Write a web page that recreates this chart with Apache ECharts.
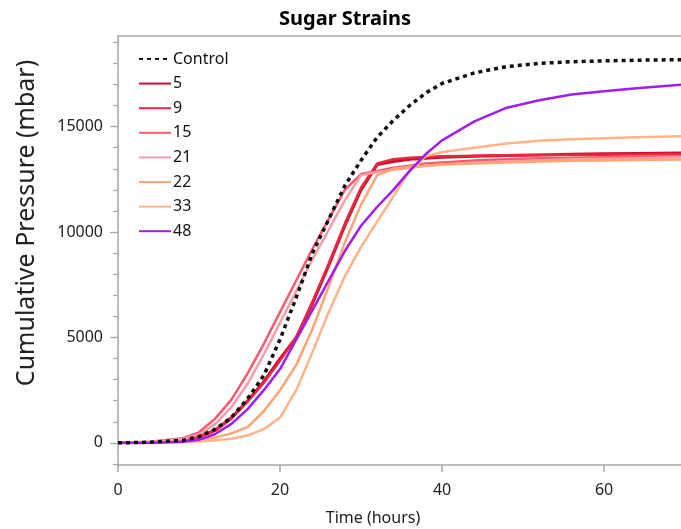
<!DOCTYPE html>
<html lang="en">
<head>
    <meta charset="UTF-8"/>
    <script src="https://cdn.jsdelivr.net/npm/echarts@6/dist/echarts.min.js"></script>
    <title>Sugar Strains</title>
    <style>
        html, body { margin: 0; padding: 0; background: #fff; }
    </style>
</head>
<body>
<div id="main" style="width:681px; height:529px;"></div>
<script type="text/javascript">
    // sampling times (hours)
    var hours = [0, 4, 8, 10, 12, 14, 16, 18, 20, 22, 24, 26, 28, 30, 32, 34, 36, 38, 40, 44, 48, 52, 56, 60, 64, 70];

    // cumulative pressure (mbar) per strain
    var control = [0, 30, 120, 300, 650, 1200, 2100, 3200, 4900, 6900, 9000, 10600, 12200, 13400, 14500, 15300, 16000, 16600, 17050, 17550, 17850, 18000, 18080, 18120, 18150, 18180];
    var s5  = [0, 30, 120, 300, 600, 1200, 2000, 2900, 4000, 5000, 6600, 8400, 10300, 12000, 13200, 13350, 13450, 13500, 13550, 13600, 13630, 13660, 13690, 13710, 13730, 13750];
    var s9  = [0, 30, 120, 280, 580, 1150, 1950, 2850, 3900, 5000, 6700, 8500, 10400, 12100, 13250, 13450, 13520, 13560, 13600, 13620, 13640, 13650, 13660, 13670, 13680, 13700];
    var s15 = [0, 50, 220, 500, 1150, 2050, 3300, 4700, 6200, 7700, 9200, 10600, 12000, 12750, 12900, 13050, 13150, 13250, 13300, 13400, 13450, 13500, 13520, 13550, 13580, 13600];
    var s21 = [0, 40, 180, 400, 900, 1700, 2800, 4200, 5700, 7200, 8700, 10100, 11500, 12700, 12850, 12950, 13050, 13150, 13200, 13300, 13350, 13400, 13450, 13480, 13500, 13550];
    var s22 = [0, 10, 60, 120, 250, 450, 750, 1500, 2500, 3700, 5400, 7400, 9500, 11300, 12700, 13000, 13100, 13150, 13200, 13250, 13300, 13350, 13380, 13400, 13420, 13450];
    var s33 = [0, 0, 30, 60, 120, 200, 350, 650, 1200, 2500, 4300, 6200, 7900, 9300, 10500, 11700, 12900, 13600, 13800, 14000, 14200, 14330, 14400, 14450, 14500, 14550];
    var s48 = [0, 0, 50, 150, 420, 900, 1600, 2500, 3500, 4900, 6300, 7700, 9100, 10300, 11200, 12000, 12900, 13700, 14350, 15250, 15900, 16250, 16520, 16680, 16820, 17000];

    var names = ['Control', '5', '9', '15', '21', '22', '33', '48'];
    var values = [control, s5, s9, s15, s21, s22, s33, s48];
    var colors = ['#111111', '#c8102e', '#e8283e', '#f65a6e', '#fb9ca8', '#ffa473', '#ffb48a', '#a21cf0'];

    // axis ticks
    var xTicks = [0, 20, 40, 60];
    var yTicks = [0, 5000, 10000, 15000];
    var yMinorTicks = [-1000, 0, 1000, 2000, 3000, 4000, 5000, 6000, 7000, 8000, 9000, 10000,
        11000, 12000, 13000, 14000, 15000, 16000, 17000, 18000, 19000];

    var myChart = echarts.init(document.getElementById('main'));
    var font = 'Noto Sans';
    var axisGray = '#a6a6a6';

    var series = names.map(function (name, k) {
        var isControl = k === 0;
        return {
            name: name,
            type: 'line',
            symbol: 'none',
            smooth: false,
            z: isControl ? 5 : 2,
            data: hours.map(function (t, i) { return [t, values[k][i]]; }),
            lineStyle: {
                color: colors[k],
                width: isControl ? 3.5 : (k === 1 ? 3 : 2.5),
                type: isControl ? [4, 4] : 'solid',
                cap: 'butt'
            },
            itemStyle: { color: colors[k] }
        };
    });

    option = {
        animation: false,
        title: [
            {
                text: 'Sugar Strains',
                left: 340, top: 4, textAlign: 'center',
                textStyle: { fontFamily: font, fontSize: 20, fontWeight: 'bold', color: '#000' }
            },
            {
                text: 'Time (hours)',
                left: 368, top: 505, textAlign: 'center',
                textStyle: { fontFamily: font, fontSize: 16, fontWeight: 'normal', color: '#222' }
            }
        ],
        graphic: [{
            type: 'text',
            x: 27, y: 223,
            rotation: Math.PI / 2,
            style: {
                text: 'Cumulative Pressure (mbar)',
                font: '25px "Noto Sans"',
                fill: '#222',
                align: 'center',
                verticalAlign: 'middle'
            }
        }],
        legend: {
            orient: 'vertical',
            left: 133, top: 46,
            itemWidth: 32, itemHeight: 16, itemGap: 8.6,
            itemStyle: { opacity: 0 },
            textStyle: { fontFamily: font, fontSize: 16, color: '#111', padding: [0, 0, 0, -3] },
            data: names
        },
        grid: { left: 118, right: 0, top: 36, bottom: 64 },
        xAxis: [
            {
                type: 'value', min: 0, max: 69.5,
                minInterval: 20, maxInterval: 20,
                splitLine: { show: false },
                axisLine: { show: true, onZero: false, lineStyle: { color: axisGray, width: 1.5 } },
                axisTick: { show: true, length: 7, lineStyle: { color: axisGray, width: 1.5 }, customValues: xTicks },
                axisLabel: { customValues: xTicks, margin: 17,
                    fontFamily: font, fontSize: 16, color: '#222' }
            },
            {
                type: 'value', position: 'top', min: 0, max: 69.5,
                axisLine: { show: true, onZero: false, lineStyle: { color: axisGray, width: 1.5 } },
                axisTick: { show: false }, axisLabel: { show: false }, splitLine: { show: false }
            }
        ],
        yAxis: [
            {
                type: 'value', min: -1050, max: 19300,
                minInterval: 5000, maxInterval: 5000,
                splitLine: { show: false },
                axisLine: { show: true, onZero: false, lineStyle: { color: axisGray, width: 1.5 } },
                axisTick: { show: true, length: 8, lineStyle: { color: axisGray, width: 1.2 }, customValues: yTicks },
                axisLabel: { customValues: yTicks, margin: 15,
                    formatter: function (v) { return String(v); },
                    fontFamily: font, fontSize: 16, color: '#222' }
            },
            {
                type: 'value', min: -1050, max: 19300, position: 'left',
                minInterval: 1000, maxInterval: 1000,
                splitLine: { show: false },
                axisLine: { show: false, onZero: false },
                axisTick: { show: true, length: 5, lineStyle: { color: axisGray, width: 1.2 }, customValues: yMinorTicks },
                axisLabel: { show: false }
            }
        ],
        series: series
    };

    myChart.setOption(option);
</script>
</body>
</html>
